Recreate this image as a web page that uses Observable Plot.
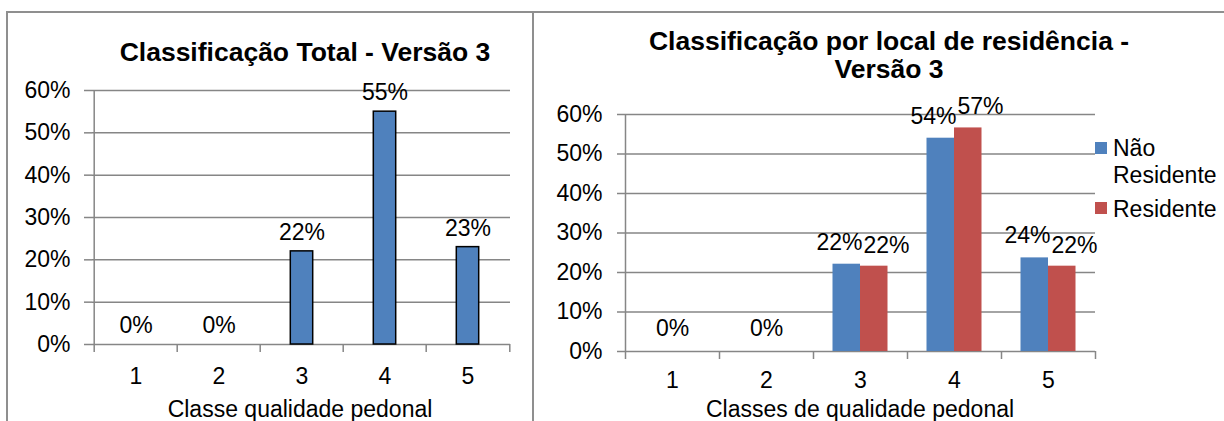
<!DOCTYPE html>
<html><head><meta charset="utf-8">
<script src="https://cdn.jsdelivr.net/npm/d3@7"></script>
<script src="https://cdn.jsdelivr.net/npm/@observablehq/plot@0.6"></script>
<style>
body{margin:0;background:#fff;font-family:"Liberation Sans",Arial,sans-serif;color:#000;}
#wrap{position:relative;width:1224px;height:421px;overflow:hidden;background:#fff;}
.abs{position:absolute;}
.title{font-weight:bold;font-size:26.5px;text-align:center;line-height:27.6px;white-space:nowrap;}
.lab{font-size:23px;line-height:26px;white-space:nowrap;}
.line{background:#8f8f8f;}
</style></head><body>
<div id="wrap">
  <div class="abs line" style="left:6px;top:11px;width:1218px;height:2px;"></div>
  <div class="abs line" style="left:6px;top:11px;width:2px;height:410px;"></div>
  <div class="abs line" style="left:532px;top:11px;width:2px;height:410px;"></div>
  <div id="c1" class="abs" style="left:0;top:0;"></div>
  <div id="c2" class="abs" style="left:533px;top:0;"></div>
  <div class="abs title" style="left:5px;width:600px;top:39px;">Classificação Total - Versão 3</div>
  <div class="abs title" style="left:589px;width:600px;top:28px;">Classificação por local de residência -<br>Versão 3</div>
  <div class="abs lab" style="left:100px;width:400px;top:396px;text-align:center;">Classe qualidade pedonal</div>
  <div class="abs lab" style="left:660px;width:400px;top:396px;text-align:center;">Classes de qualidade pedonal</div>
  <div class="abs" style="left:1095px;top:142px;width:12px;height:12px;background:#4F81BD;"></div>
  <div class="abs lab" style="left:1113px;top:135px;">Não</div>
  <div class="abs lab" style="left:1113px;top:162px;">Residente</div>
  <div class="abs" style="left:1095px;top:202px;width:12px;height:12px;background:#C0504D;"></div>
  <div class="abs lab" style="left:1113px;top:196px;">Residente</div>
</div>
<script>
const classes = ["1", "2", "3", "4", "5"];
const totalValues = [0, 0, 0.22, 0.55, 0.23];
const naoResidente = [0, 0, 0.221, 0.54, 0.237];
const residente = [0, 0, 0.216, 0.566, 0.216];
const yTicks = [0, 0.1, 0.2, 0.3, 0.4, 0.5, 0.6];

const blue = "#4F81BD", red = "#C0504D", gray = "#868686";
const fmt = d3.format(".0%");
const font = {fontFamily: "'Liberation Sans', Arial, sans-serif", fontSize: "23px", color: "black", background: "transparent", overflow: "visible"};

// Chart 1
const rows1 = classes.map((c, i) => ({cls: c, v: totalValues[i]}));
const W1 = 533, ML1 = 92, MR1 = 23;
const bw1 = (W1 - ML1 - MR1) / classes.length;
const p1 = Plot.plot({
  width: W1, height: 421,
  marginLeft: ML1, marginRight: MR1, marginTop: 90, marginBottom: 77,
  style: font,
  x: {type: "band", domain: classes, padding: 0},
  y: {domain: [0, 0.6]},
  marks: [
    Plot.gridY(yTicks, {stroke: gray, strokeOpacity: 1, strokeWidth: 1.5}),
    Plot.ruleX([classes[0]], {x: d => d, dx: -bw1 / 2, y1: 0, y2: 0.6, stroke: gray, strokeWidth: 1.5}),
    Plot.axisY({ticks: yTicks, tickFormat: fmt, tickSize: 8, tickPadding: 14, stroke: gray, strokeWidth: 1.5, label: null, fontSize: 23}),
    Plot.axisX({tickSize: 8, dx: -bw1 / 2, tickFormat: () => "", label: null, stroke: gray, strokeWidth: 1.5}),
    Plot.axisX({ticks: [classes[classes.length - 1]], tickSize: 8, dx: bw1 / 2, tickFormat: () => "", label: null, stroke: gray, strokeWidth: 1.5}),
    Plot.axisX({tickSize: 0, tickPadding: 23, label: null, fontSize: 23}),
    Plot.barY(rows1.filter(d => d.v > 0), {x: "cls", y: "v", fill: blue, stroke: "black", strokeWidth: 1.5, insetLeft: 30.3, insetRight: 30.3}),
    Plot.text(rows1, {x: "cls", y: "v", text: d => fmt(d.v), dy: -19, fontSize: 23, fill: "black"})
  ]
});
document.getElementById("c1").append(p1);

// Chart 2
const rows2 = classes.map((c, i) => ({cls: c, nao: naoResidente[i], res: residente[i]}));
const W2 = 691, ML2 = 92, MR2 = 129;
const bw2 = (W2 - ML2 - MR2) / classes.length;
const p2 = Plot.plot({
  width: W2, height: 421,
  marginLeft: ML2, marginRight: MR2, marginTop: 114, marginBottom: 70,
  style: font,
  x: {type: "band", domain: classes, padding: 0},
  y: {domain: [0, 0.6]},
  marks: [
    Plot.gridY(yTicks, {stroke: gray, strokeOpacity: 1, strokeWidth: 1.5}),
    Plot.ruleX([classes[0]], {x: d => d, dx: -bw2 / 2, y1: 0, y2: 0.6, stroke: gray, strokeWidth: 1.5}),
    Plot.axisY({ticks: yTicks, tickFormat: fmt, tickSize: 8, tickPadding: 15, stroke: gray, strokeWidth: 1.5, label: null, fontSize: 23}),
    Plot.axisX({tickSize: 8, dx: -bw2 / 2, tickFormat: () => "", label: null, stroke: gray, strokeWidth: 1.5}),
    Plot.axisX({ticks: [classes[classes.length - 1]], tickSize: 8, dx: bw2 / 2, tickFormat: () => "", label: null, stroke: gray, strokeWidth: 1.5}),
    Plot.axisX({tickSize: 0, tickPadding: 20, label: null, fontSize: 23}),
    Plot.barY(rows2.filter(d => d.nao > 0), {x: "cls", y: "nao", fill: blue, insetLeft: 19.5, insetRight: 47}),
    Plot.barY(rows2.filter(d => d.res > 0), {x: "cls", y: "res", fill: red, insetLeft: 47, insetRight: 19.5}),
    Plot.text(rows2.filter(d => d.nao > 0), {x: "cls", y: "nao", text: d => fmt(d.nao), dx: -21, dy: -22, fontSize: 23, fill: "black"}),
    Plot.text(rows2.filter(d => d.res > 0), {x: "cls", y: "res", text: d => fmt(d.res), dx: 26, dy: -21, fontSize: 23, fill: "black"}),
    Plot.text(rows2.filter(d => d.nao === 0 && d.res === 0), {x: "cls", y: "nao", text: d => fmt(d.nao), dy: -23, fontSize: 23, fill: "black"})
  ]
});
document.getElementById("c2").append(p2);
</script>
</body></html>
